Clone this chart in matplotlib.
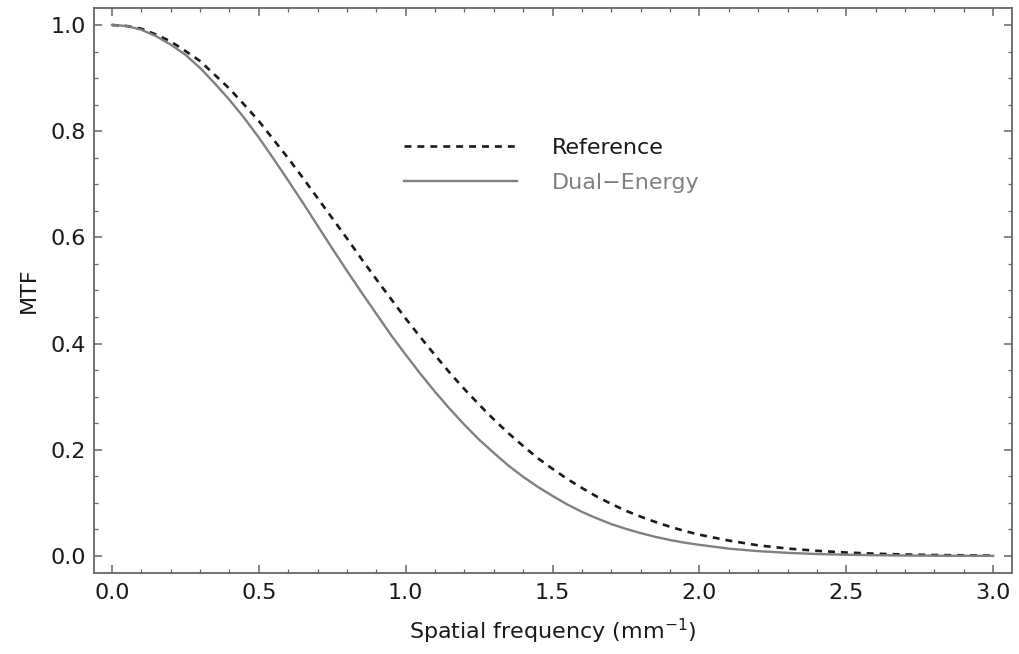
import matplotlib
matplotlib.use("Agg")
import matplotlib.pyplot as plt
from matplotlib.ticker import MultipleLocator, FormatStrFormatter

plt.rcParams['font.family'] = ['DejaVu Sans']

freq = [0.00, 0.05, 0.10, 0.15, 0.20, 0.25, 0.30, 0.35, 0.40, 0.45, 0.50,
        0.55, 0.60, 0.65, 0.70, 0.75, 0.80, 0.85, 0.90, 0.95, 1.00,
        1.05, 1.10, 1.15, 1.20, 1.25, 1.30, 1.35, 1.40, 1.45, 1.50,
        1.55, 1.60, 1.65, 1.70, 1.75, 1.80, 1.85, 1.90, 1.95, 2.00,
        2.1, 2.2, 2.3, 2.4, 2.5, 2.6, 2.7, 2.8, 2.9, 3.0]

mtf_reference = [1.000, 0.998, 0.993, 0.982, 0.969, 0.951, 0.932, 0.906, 0.880, 0.850, 0.819,
                 0.784, 0.749, 0.712, 0.674, 0.636, 0.598, 0.559, 0.521, 0.484, 0.447,
                 0.412, 0.378, 0.345, 0.314, 0.285, 0.257, 0.231, 0.207, 0.184, 0.164,
                 0.145, 0.128, 0.112, 0.098, 0.085, 0.074, 0.064, 0.055, 0.047, 0.040,
                 0.029, 0.020, 0.014, 0.0097, 0.0065, 0.0043, 0.0028, 0.0018, 0.0012, 0.0007]

mtf_dual = [1.000, 0.998, 0.991, 0.979, 0.963, 0.944, 0.919, 0.890, 0.859, 0.825, 0.788,
            0.748, 0.707, 0.665, 0.622, 0.579, 0.537, 0.496, 0.456, 0.416, 0.379,
            0.343, 0.309, 0.277, 0.247, 0.219, 0.194, 0.170, 0.149, 0.130, 0.113,
            0.097, 0.083, 0.071, 0.060, 0.051, 0.043, 0.036, 0.030, 0.025, 0.021,
            0.0138, 0.0091, 0.0059, 0.0037, 0.0023, 0.0014, 0.0008, 0.0005, 0.0003, 0.0002]

labels = ["Reference", "Dual\u2212Energy"]
xlabel = "Spatial frequency (mm$^{-1}$)"
ylabel = "MTF"

fig = plt.figure(figsize=(10.2, 6.54), dpi=100)
ax = fig.add_axes([0.0922, 0.1239, 0.9, 0.8639])

lw_d = 1.9
ax.plot(freq, mtf_reference, color='#1a1a1a', lw=lw_d,
        linestyle=(0, (5.0 / lw_d, 4.3 / lw_d)), label=labels[0])
ax.plot(freq, mtf_dual, color='#808080', lw=1.7, label=labels[1])

ax.set_xlim(-0.061, 3.064)
ax.set_ylim(-0.032, 1.032)

ax.xaxis.set_major_locator(MultipleLocator(0.5))
ax.xaxis.set_minor_locator(MultipleLocator(0.1))
ax.yaxis.set_major_locator(MultipleLocator(0.2))
ax.yaxis.set_minor_locator(MultipleLocator(0.05))
ax.xaxis.set_major_formatter(FormatStrFormatter('%.1f'))
ax.yaxis.set_major_formatter(FormatStrFormatter('%.1f'))

frame_col = '#666666'
for s in ax.spines.values():
    s.set_color(frame_col)
    s.set_linewidth(1.3)

ax.tick_params(which='both', direction='in', top=True, right=True, color=frame_col)
ax.tick_params(which='major', length=6, width=1.1, labelsize=16, pad=6, labelcolor='#1a1a1a')
ax.tick_params(axis='x', which='major', pad=7.5)
ax.tick_params(which='minor', length=3, width=0.9)

ax.set_xlabel(xlabel, fontsize=16, color='#1a1a1a', labelpad=10)
ax.set_ylabel(ylabel, fontsize=16, color='#1a1a1a', labelpad=8)

leg = ax.legend(loc='upper left', bbox_to_anchor=(0.316, 0.805), frameon=False,
                fontsize=16, handlelength=5.1, handletextpad=1.55, labelspacing=0.68,
                labelcolor=['#1a1a1a', '#808080'])

fig.savefig("out.png", dpi=100, facecolor='white')
